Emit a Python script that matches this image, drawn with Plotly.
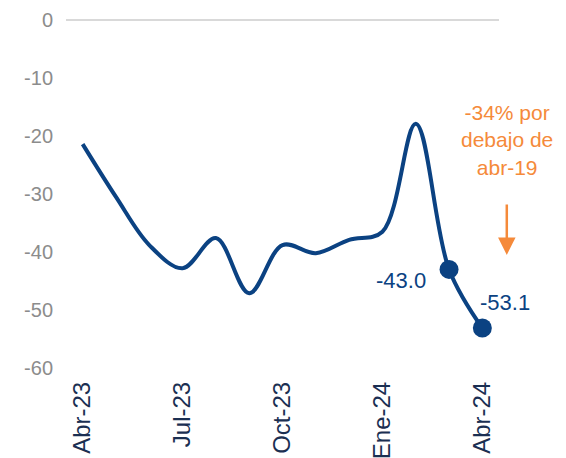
import plotly.graph_objects as go

# datos mensuales (abr-23 a abr-24)
meses = ["Abr-23", "May-23", "Jun-23", "Jul-23", "Ago-23", "Sep-23", "Oct-23",
         "Nov-23", "Dic-23", "Ene-24", "Feb-24", "Mar-24", "Abr-24"]
valores = [-21.4, -30.5, -38.8, -42.8, -37.6, -47.1, -38.8,
           -40.2, -37.9, -36.5, -17.9, -43.0, -53.1]
ticks_x = ["Abr-23", "Jul-23", "Oct-23", "Ene-24", "Abr-24"]
ticks_y = [0, -10, -20, -30, -40, -50, -60]

AZUL = "#0B4282"
NARANJA = "#F58A3A"
FUENTE = "Liberation Sans, Arial, sans-serif"

fig = go.Figure()

# línea suavizada
fig.add_trace(go.Scatter(
    x=meses, y=valores, mode="lines",
    line=dict(color=AZUL, width=4, shape="spline", smoothing=1),
    hoverinfo="skip", showlegend=False,
))

# marcadores en los dos últimos meses
fig.add_trace(go.Scatter(
    x=meses[-2:], y=valores[-2:], mode="markers",
    marker=dict(color=AZUL, size=19),
    showlegend=False,
))

# etiquetas de datos
fig.add_annotation(x=meses[-2], y=valores[-2], text=f"{valores[-2]:.1f}",
                   showarrow=False, xanchor="right", xshift=-21, yshift=-11,
                   font=dict(family=FUENTE, size=22, color=AZUL))
fig.add_annotation(x=meses[-1], y=valores[-1], text=f"{valores[-1]:.1f}",
                   showarrow=False, xanchor="center", xshift=23, yshift=25,
                   font=dict(family=FUENTE, size=22, color=AZUL))

# nota en naranja + flecha
fig.add_annotation(xref="paper", x=1.018, y=-20.7, xanchor="center", yanchor="middle",
                   text="-34% por<br>debajo de<br>abr-19", showarrow=False,
                   align="center", font=dict(family=FUENTE, size=21, color=NARANJA))
fig.add_annotation(xref="paper", x=1.018, y=-40.5, text="", showarrow=True,
                   ax=0, ay=-52, arrowhead=2, arrowsize=1.4, arrowwidth=2.5,
                   arrowcolor=NARANJA)

fig.update_xaxes(
    type="category", categoryorder="array", categoryarray=meses,
    range=[-0.5, 12.5], tickvals=ticks_x, ticktext=ticks_x,
    tickangle=-90, showgrid=False, showline=False, zeroline=False,
    ticks="", ticklabelstandoff=8, automargin=False,
    tickfont=dict(family=FUENTE, size=24, color="#1B2F52"),
)
fig.update_yaxes(
    range=[-60, 0], tickvals=ticks_y, ticktext=[str(v) for v in ticks_y],
    showgrid=False, zeroline=True, zerolinecolor="#D9D9D9", zerolinewidth=2,
    showline=False, ticks="", ticklabelstandoff=12, automargin=False,
    tickfont=dict(family=FUENTE, size=20, color="#8C8C8C"),
)

# la página añade 8 px de margen al cuerpo: figura algo más pequeña
fig.update_layout(
    width=558, height=450,
    margin=dict(l=58, r=67, t=12, b=90),
    plot_bgcolor="white", paper_bgcolor="white",
    showlegend=False,
)

fig.write_html("out.html")
